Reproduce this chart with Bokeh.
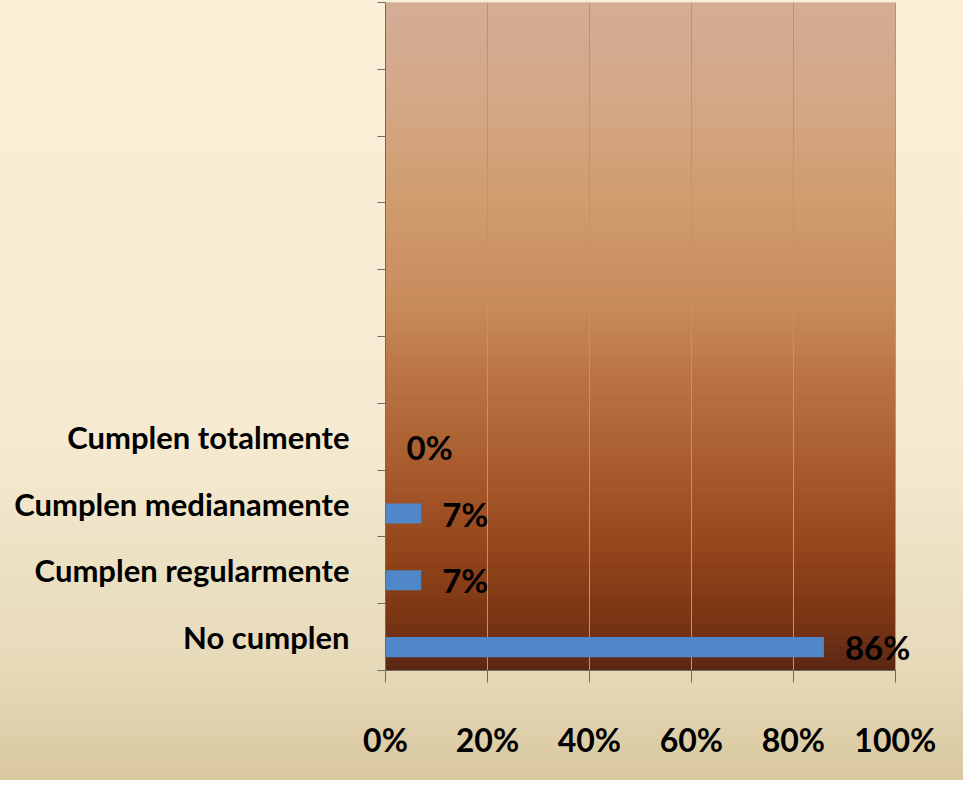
import numpy as np
from bokeh.plotting import figure
from bokeh.models import FixedTicker, Range1d, ColumnDataSource
from bokeh.core.properties import value
from bokeh.embed import file_html
from bokeh.resources import INLINE

# ---- data ----
categories = ["No cumplen", "Cumplen regularmente", "Cumplen medianamente", "Cumplen totalmente"]
values = [86, 7, 7, 0]
value_labels = ["86%", "7%", "7%", "0%"]
x_ticks = [0, 20, 40, 60, 80, 100]
x_tick_labels = ["0%", "20%", "40%", "60%", "80%", "100%"]
n_slots = 10  # slots on the category axis (only the lowest four are used)
x_max = 100

FONT = "Lato"

pos = np.arange(len(categories)) + 0.5

# the frame extends past 100% so the "86%" label is not clipped; axis/grid are bounded at 100%
x_view = 112
p = figure(width=963, height=780, output_backend="svg", toolbar_location=None,
           x_range=Range1d(0, x_view), y_range=Range1d(0, n_slots),
           min_border_left=385, min_border_right=7, min_border_top=2, min_border_bottom=110)
p.border_fill_color = None
p.background_fill_color = None
p.outline_line_color = None
p.styles = {"background": "linear-gradient(to bottom, #FCEFD8 0%, #F6EAD2 55%, #E6DAB9 85%, #D9C8A0 100%)",
            "box-shadow": "-1px 0 0 #8c8c8c"}

# ---- plot-area gradient (decorative background) ----
stops_t = [0.0, 0.15, 0.30, 0.45, 0.55, 0.70, 0.82, 0.92, 1.0]
stops_c = [(0xD4, 0xAE, 0x96), (0xD4, 0xA7, 0x86), (0xD1, 0x9C, 0x6E), (0xC8, 0x8C, 0x5C),
           (0xBC, 0x76, 0x46), (0xA9, 0x5B, 0x2E), (0x94, 0x46, 0x1C), (0x7C, 0x36, 0x14), (0x5A, 0x28, 0x16)]
N = 140
edges = np.linspace(0, n_slots, N + 1)
mids = (edges[:-1] + edges[1:]) / 2
t = 1 - mids / n_slots
cols = []
for tt in t:
    r = np.interp(tt, stops_t, [c[0] for c in stops_c])
    g = np.interp(tt, stops_t, [c[1] for c in stops_c])
    b = np.interp(tt, stops_t, [c[2] for c in stops_c])
    cols.append("#%02x%02x%02x" % (int(r), int(g), int(b)))
p.quad(left=0, right=x_max, bottom=edges[:-1], top=edges[1:], fill_color=cols,
       line_color=cols, line_width=1, level="image")

# ---- bars ----
src = ColumnDataSource(dict(y=pos - 0.15, v=values, lab=value_labels))
p.hbar(y="y", height=0.3, left=0, right="v", source=src, fill_color="#4F87C9", line_color=None)

# ---- data labels ----
p.text(x="v", y="y", text="lab", source=src, x_offset=21, text_baseline="middle",
       text_align="left", text_font=value(FONT), text_font_style="bold",
       text_font_size="33px", text_color="black")

# ---- grid ----
p.xgrid.ticker = FixedTicker(ticks=x_ticks)
p.xgrid.grid_line_color = "#A39A92"
p.xgrid.bounds = (0, x_max)
p.ygrid.grid_line_color = None

# ---- x axis ----
xa = p.xaxis[0]
xa.ticker = FixedTicker(ticks=x_ticks)
xa.bounds = (0, x_max)
xa.major_label_overrides = {tk: lb for tk, lb in zip(x_ticks, x_tick_labels)}
xa.axis_line_color = "#6F6A66"
xa.major_tick_line_color = "#6F6A66"
xa.major_tick_out = 12
xa.major_tick_in = 0
xa.minor_tick_line_color = None
xa.major_label_standoff = 37
xa.major_label_text_font = FONT
xa.major_label_text_font_style = "bold"
xa.major_label_text_font_size = "32px"
xa.major_label_text_color = "black"

# ---- y axis ----
ya = p.yaxis[0]
ya.ticker = FixedTicker(ticks=list(pos), minor_ticks=list(range(n_slots + 1)))
ya.major_label_overrides = {float(y): c for y, c in zip(pos, categories)}
ya.axis_line_color = "#6F6A66"
ya.major_tick_line_color = None
ya.major_tick_out = 0
ya.major_tick_in = 0
ya.minor_tick_line_color = "#6F6A66"
ya.minor_tick_out = 8
ya.minor_tick_in = 0
ya.major_label_standoff = 28
ya.major_label_text_font = FONT
ya.major_label_text_font_style = "bold"
ya.major_label_text_font_size = "31px"
ya.major_label_text_color = "black"

open("out.html", "w").write(file_html(p, INLINE))
